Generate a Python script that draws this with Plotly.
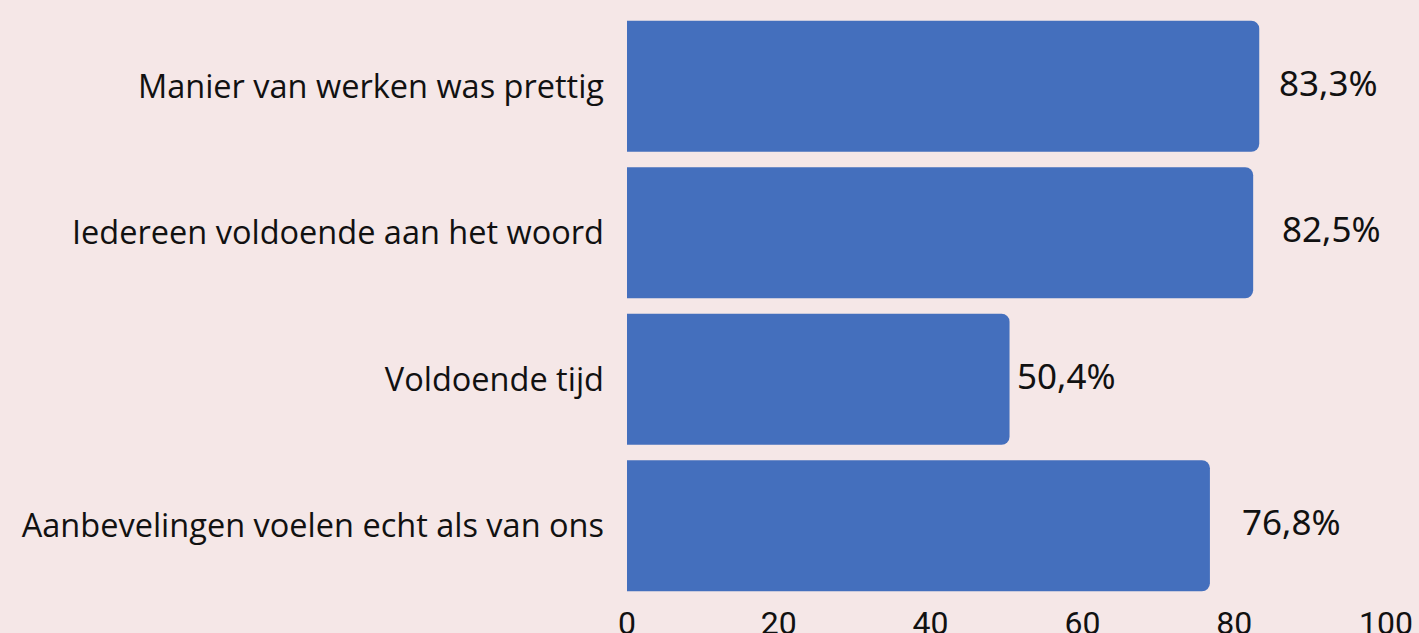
import plotly.graph_objects as go

categories = [
    "Manier van werken was prettig",
    "Iedereen voldoende aan het woord",
    "Voldoende tijd",
    "Aanbevelingen voelen echt als van ons",
]
values = [83.3, 82.5, 50.4, 76.8]
value_labels = ["83,3%", "82,5%", "50,4%", "76,8%"]
label_shift = [18, 27, 5, 30]
x_ticks = [0, 20, 40, 60, 80, 100]

BG = "#F5E7E7"
BAR = "#446FBD"

fig = go.Figure()
fig.add_trace(go.Bar(
    x=values, y=categories, orientation="h",
    marker=dict(color=BAR, line=dict(width=0)),
    hoverinfo="skip",
))

for c, v, t, s in zip(categories, values, value_labels, label_shift):
    fig.add_annotation(x=v, y=c, text=t, showarrow=False, xanchor="left",
                       xshift=s, yshift=4,
                       font=dict(family="Noto Sans", size=35, color="#111111"))

fig.update_layout(
    width=1419, height=633,
    margin=dict(l=627, r=33, t=13, b=34, autoexpand=False),
    paper_bgcolor=BG, plot_bgcolor=BG,
    bargap=0.105, barcornerradius=8,
    showlegend=False,
    xaxis=dict(range=[0, 100], tickvals=x_ticks, showgrid=False, zeroline=False,
               showline=False, ticks="", ticklabelstandoff=2,
               tickfont=dict(family="Roboto", size=32, color="#111111")),
    yaxis=dict(autorange="reversed", showgrid=False, zeroline=False, showline=False,
               ticks="", ticklabelstandoff=22,
               tickfont=dict(family="Open Sans", size=32.5, color="#111111")),
)

fig.write_html("out.html", config={"displayModeBar": False},
               post_script="document.body.style.margin='0';document.body.style.overflow='hidden';")
